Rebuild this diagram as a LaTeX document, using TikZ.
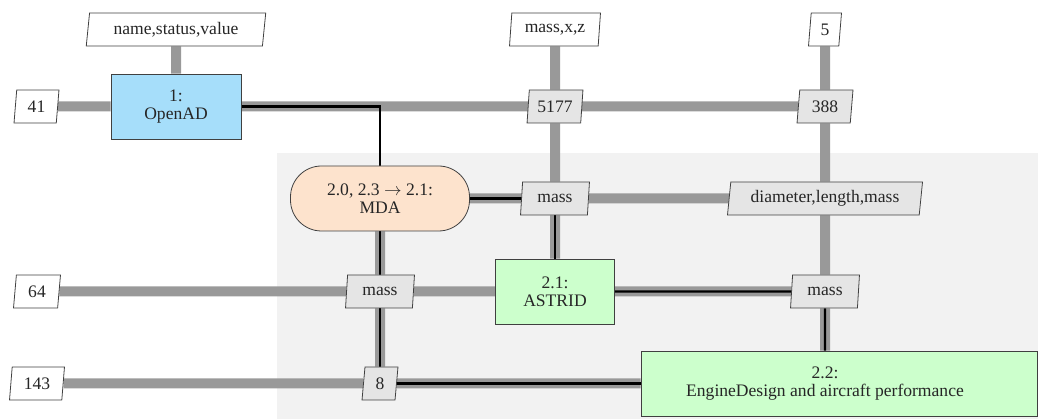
\documentclass[tikz,border=0pt]{standalone}
\usepackage{fontspec}
\setmainfont{Liberation Serif}
\usetikzlibrary{shapes.geometric}

\definecolor{driverblue}{RGB}{166,222,250}
\definecolor{solverpeach}{RGB}{253,227,205}
\definecolor{discgreen}{RGB}{204,255,204}

\pgfdeclarelayer{bg}
\pgfdeclarelayer{links}
\pgfdeclarelayer{flow}
\pgfsetlayers{bg,links,flow,main}

\tikzset{
    box/.style={draw=black!75, line width=0.45pt, minimum height=1.3cm, align=center, text=black!85},
    driver/.style={box, fill=driverblue, minimum width=2.6cm},
    solver/.style={box, fill=solverpeach, minimum width=3.58cm, rounded corners=0.62cm},
    discipline/.style={box, fill=discgreen},
    datanode/.style={trapezium, trapezium left angle=80, trapezium right angle=100,
        trapezium stretches=true, draw=black!75, line width=0.45pt, fill=black!10,
        text=black!85, minimum height=0.66cm, inner xsep=3.5pt, inner ysep=0pt},
    inputnode/.style={datanode, fill=white},
    datalink/.style={line width=0.2cm, black!40},
    flowlink/.style={line width=1.4pt, black},
}

\begin{document}
\begin{tikzpicture}[font=\rmfamily\fontsize{10}{10.5}\selectfont]
                \useasboundingbox (0, 0) rectangle (20.76, 8.38);
                \node (nsv) at (3.52, 7.79) [inputnode, minimum width=3.6cm] {name,status,value};
                \node (mxz) at (11.1, 7.79) [inputnode, minimum width=1.82cm] {mass,x,z};
                \node (in5) at (16.5, 7.79) [inputnode, minimum width=0.66cm] {5};
                \node (in41) at (0.73, 6.25) [inputnode, minimum width=0.9cm] {41};
                \node (openad) at (3.52, 6.25) [driver] {1:\\OpenAD};
                \node (d5177) at (11.1, 6.25) [datanode, minimum width=1.12cm] {5177};
                \node (d388) at (16.5, 6.25) [datanode, minimum width=1.12cm] {388};
                \node (mda) at (7.6, 4.41) [solver] {2.0, 2.3 $\rightarrow$ 2.1:\\MDA};
                \node (mass23) at (11.1, 4.41) [datanode, minimum width=1.38cm] {mass};
                \node (dlm) at (16.5, 4.41) [datanode, minimum width=3.92cm] {diameter,length,mass};
                \node (in64) at (0.74, 2.55) [inputnode, minimum width=0.94cm] {64};
                \node (mass32) at (7.6, 2.55) [datanode, minimum width=1.38cm] {mass};
                \node (astrid) at (11.1, 2.55) [discipline, minimum width=2.38cm] {2.1:\\ASTRID};
                \node (mass43) at (16.5, 2.55) [datanode, minimum width=1.38cm] {mass};
                \node (in143) at (0.74, 0.71) [inputnode, minimum width=1.1cm] {143};
                \node (d8) at (7.6, 0.71) [datanode, minimum width=0.72cm] {8};
                \node (engine) at (16.78, 0.71) [discipline, minimum width=7.92cm,
                    label={[xshift=-0.28cm, align=center, text=black!85]center:2.2:\\EngineDesign and aircraft performance}] {};
                \begin{pgfonlayer}{bg}
                    \fill[black!5] (5.54, 0) rectangle (20.76, 5.32);
                \end{pgfonlayer}
                \begin{pgfonlayer}{links}
                    \draw[datalink] (nsv) -- (openad);
                    \draw[datalink] (in41) -- (openad);
                    \draw[datalink] (openad) -- (d5177) -- (d388);
                    \draw[datalink] (mxz) -- (d5177) -- (mass23) -- (astrid);
                    \draw[datalink] (in5) -- (d388) -- (dlm) -- (mass43);
                    \draw[datalink] (mda) -- (mass23) -- (dlm);
                    \draw[datalink] (in64) -- (mass32) -- (astrid) -- (mass43);
                    \draw[datalink] (mass43) -- (mass43 |- engine.north);
                    \draw[datalink] (mda) -- (mass32) -- (d8);
                    \draw[datalink] (in143) -- (d8) -- (engine);
                \end{pgfonlayer}
                \begin{pgfonlayer}{flow}
                    \draw[flowlink] (openad) -| (mda);
                    \draw[flowlink] (mda) -| (astrid);
                    \draw[flowlink] (astrid) -- (mass43) -- (mass43 |- engine.north);
                    \draw[flowlink] (engine) -| (mda);
                \end{pgfonlayer}
            \end{tikzpicture}
\end{document}
